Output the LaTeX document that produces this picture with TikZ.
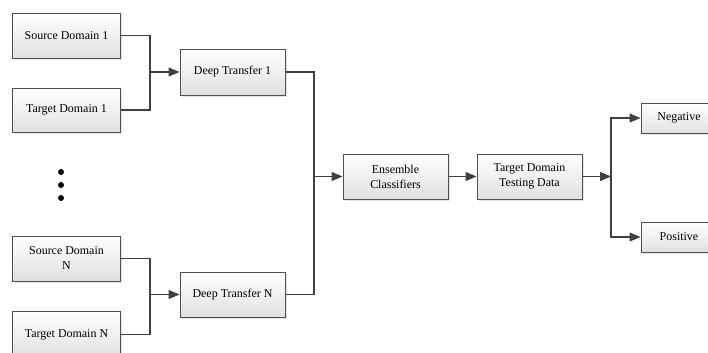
\documentclass[tikz,border=0pt]{standalone}
\usepackage{fontspec}
\setmainfont{Liberation Serif}
\usetikzlibrary{arrows.meta,shadows}
\definecolor{linec}{HTML}{404040}
\definecolor{boxline}{HTML}{505050}
\tikzset{
  blk/.style={draw=boxline, line width=1bp, top color=white, bottom color=black!12,
    drop shadow={shadow xshift=2bp, shadow yshift=-2bp, opacity=0.25, fill=black!40},
    align=center, inner sep=1bp, font=\fontsize{12}{15}\selectfont},
  conn/.style={draw=linec, line width=1.1bp},
  arr/.style={conn, -{Triangle[length=11bp,width=9bp]}},
}
\begin{document}
\begin{tikzpicture}[x=1bp,y=-1bp]
\useasboundingbox (0,0) rectangle (708,352);
\clip (0,0) rectangle (708,352);
\node[blk, minimum width=107bp, minimum height=45bp] (s1) at (66.5,35.5) {Source Domain 1};
\node[blk, minimum width=107bp, minimum height=44bp] (t1) at (66.5,110) {Target Domain 1};
\node[blk, minimum width=107bp, minimum height=45bp] (sN) at (66.5,258.5) {Source Domain\\N};
\node[blk, minimum width=107bp, minimum height=46bp] (tN) at (66.5,334.5) {Target Domain N};
\node[blk, minimum width=105bp, minimum height=46bp] (d1) at (232.5,72) {Deep Transfer 1};
\node[blk, minimum width=105bp, minimum height=45bp] (dN) at (232.5,294.5) {Deep Transfer N};
\node[blk, minimum width=105bp, minimum height=45bp] (ens) at (395.5,176.5) {Ensemble\\Classifiers};
\node[blk, minimum width=105bp, minimum height=45bp] (tdt) at (529.5,176.5) {Target Domain\\Testing Data};
\node[blk, minimum width=76bp, minimum height=30bp] (neg) at (679,118) {Negative};
\node[blk, minimum width=76bp, minimum height=30bp] (pos) at (679,237) {Positive};
\coordinate (j1) at (150,72);
\coordinate (jN) at (150,294.5);
\coordinate (jm) at (314,176.5);
\coordinate (jr) at (611,176.5);
\draw[conn] (s1.east) -| (j1) |- (t1.east);
\draw[arr] (j1) -- (d1.west);
\draw[conn] (sN.east) -| (jN) |- (tN.east);
\draw[arr] (jN) -- (dN.west);
\draw[conn] (d1.east) -| (jm) |- (dN.east);
\draw[arr] (jm) -- (ens.west);
\draw[arr] (ens.east) -- (tdt.west);
\draw[arr] (tdt.east) -- (jr);
\draw[arr] (jr) |- (neg.west);
\draw[arr] (jr) |- (pos.west);
\fill (61,172) circle (3bp);
\fill (61,185) circle (3bp);
\fill (61,198) circle (3bp);
\end{tikzpicture}
\end{document}
